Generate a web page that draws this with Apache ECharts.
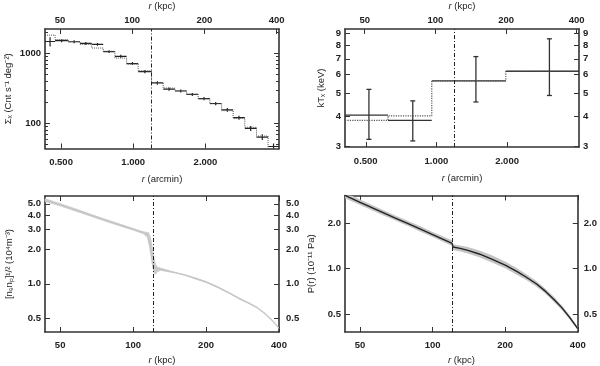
<!DOCTYPE html>
<html lang="en">
<head>
<meta charset="UTF-8">
<title>Cluster radial profiles</title>
<script src="https://cdn.jsdelivr.net/npm/echarts@6.0.0/dist/echarts.min.js"></script>
<style>
  html, body { margin: 0; padding: 0; background: #fff; }
  #chart { width: 600px; height: 366px; }
</style>
</head>
<body>
<div id="chart"></div>
<script>
// ---------- data (radii in kpc) ----------
var shockTop = 120, shockBottom = 121;
var kpcPerArcmin = 101;

// surface brightness bins
var sbEdges = [43.3, 47.7, 54.1, 60.6, 67.8, 75.7, 84.7, 94.8, 105.9, 120.4, 134.6, 150.6, 168.4, 188.3, 210.6, 235.7, 263.4, 294.6, 329.6, 368.3, 409];
var sbValues = [1460, 1500, 1450, 1370, 1330, 1050, 900, 710, 545, 376, 308, 289, 258, 225, 192, 156, 121, 85, 64, 47];
var sbErrors = [220, 70, 70, 65, 60, 50, 45, 35, 30, 22, 16, 14, 13, 12, 10, 9, 8, 7, 6, 5];
var sbModel = [1800, 1560, 1450, 1330, 1180, 1060, 850, 700, 560, 380, 318, 292, 258, 224, 190, 152, 118, 88, 66, 40];

// temperature bins
var ktEdges = [41.2, 62.8, 96.5, 199.5, 409];
var ktValues = [4.05, 3.85, 5.65, 6.2];
var ktLow = [3.2, 3.15, 4.6, 4.9];
var ktHigh = [5.2, 4.65, 7.15, 8.5];
var ktCentres = [52.1, 80.1, 148.8, 306];
var ktModel = [3.85, 4.02, 5.65, 6.2];

// density profile with its spread
var neR = [43, 50, 60, 70, 80, 90, 100, 110, 114, 116, 118, 120, 122, 124, 126, 130, 140, 150, 165, 180, 200, 225, 250, 275, 300, 325, 350, 375, 400];
var neMid = [5.4, 4.9, 4.3, 3.85, 3.5, 3.22, 3.0, 2.8, 2.72, 2.5, 2.1, 1.7, 1.45, 1.37, 1.35, 1.34, 1.29, 1.25, 1.19, 1.12, 1.04, 0.93, 0.83, 0.74, 0.68, 0.62, 0.55, 0.48, 0.41];
var neHi = [5.62, 5.06, 4.43, 3.96, 3.6, 3.31, 3.08, 2.88, 2.84, 2.82, 2.6, 2.2, 1.75, 1.5, 1.41, 1.38, 1.32, 1.27, 1.21, 1.14, 1.06, 0.948, 0.845, 0.755, 0.692, 0.632, 0.56, 0.488, 0.416];
var neLo = [5.22, 4.76, 4.17, 3.74, 3.4, 3.13, 2.92, 2.72, 2.56, 2.2, 1.75, 1.4, 1.22, 1.2, 1.27, 1.3, 1.26, 1.23, 1.17, 1.1, 1.02, 0.912, 0.815, 0.725, 0.668, 0.608, 0.54, 0.472, 0.404];

// pressure profile with its spread
var prR = [43.3, 50, 60, 70, 80, 90, 100, 110, 120.5, 121.5, 130, 140, 156, 175, 201, 225, 243, 270, 294, 320, 344, 370, 400];
var prMid = [3.06, 2.75, 2.41, 2.16, 1.97, 1.81, 1.68, 1.57, 1.47, 1.39, 1.36, 1.32, 1.25, 1.16, 1.05, 0.95, 0.883, 0.79, 0.706, 0.62, 0.549, 0.475, 0.4];
var prHi = [3.2, 2.87, 2.51, 2.25, 2.05, 1.89, 1.75, 1.64, 1.54, 1.45, 1.42, 1.39, 1.32, 1.23, 1.11, 1.0, 0.925, 0.825, 0.735, 0.645, 0.57, 0.49, 0.41];
var prLo = [2.93, 2.64, 2.32, 2.08, 1.9, 1.74, 1.62, 1.51, 1.41, 1.33, 1.3, 1.26, 1.19, 1.1, 1.0, 0.905, 0.845, 0.758, 0.68, 0.597, 0.53, 0.46, 0.39];

// tick values
var kpcTicks = [50, 100, 200, 400];
var arcminTicks = [0.5, 1, 2];
var sbTicks = [100, 1000];
var sbMinor = [50, 60, 70, 80, 90, 200, 300, 400, 500, 600, 700, 800, 900, 2000];
var ktTicks = [3, 4, 5, 6, 7, 8, 9];
var neTicks = [0.5, 1, 2, 3, 4, 5];
var prTicks = [0.5, 1, 2];

// ---------- chart ----------
var FONT = '"Liberation Sans", Arial, sans-serif';
var INK = '#333';
var grids = [], xAxes = [], yAxes = [], series = [];

function nameStyle(size) {
  return { fontFamily: FONT, fontSize: size, color: '#222',
    rich: { i: { fontFamily: FONT, fontSize: size, fontStyle: 'italic', color: '#222' } } };
}

// returns the index of the new axis
function axis(kind, grid, pos, min, max, ticks, fmt, margin, tickLen, name, nameGap) {
  var a = {
    type: 'log', gridIndex: grid, position: pos, min: min, max: max,
    axisLine: { show: !tickLen, onZero: false, lineStyle: { color: INK, width: 1.6 } },
    axisTick: { show: true, inside: true, length: tickLen || 5, customValues: ticks, lineStyle: { color: INK, width: 1 } },
    axisLabel: { show: !!fmt, customValues: ticks, margin: margin || 4,
      fontFamily: FONT, fontSize: 9.5, fontWeight: 'bold', color: '#222' },
    splitLine: { show: false }, minorTick: { show: false }, silent: true
  };
  if (fmt) a.axisLabel.formatter = fmt;
  if (name) {
    a.name = name; a.nameLocation = 'middle'; a.nameGap = nameGap; a.nameTextStyle = nameStyle(9.5);
  }
  var list = kind === 'x' ? xAxes : yAxes;
  list.push(a);
  return list.length - 1;
}

var fmtInt = function (v) { return String(Math.round(v)); };
var fmt1 = function (v) { return (Math.round(v * 10) / 10).toFixed(1); };
var fmt3 = function (v) { return (Math.round(v * 1000) / 1000).toFixed(3); };

function steps(edges, vals) {
  var out = [];
  vals.forEach(function (v, i) { out.push([edges[i], v]); out.push([edges[i + 1], v]); });
  return out;
}

function shockLine(r) {
  return { silent: true, symbol: 'none', label: { show: false },
    lineStyle: { color: '#222', type: [4, 2, 1, 2], width: 1 }, data: [{ xAxis: r }] };
}

function band(rs, lo, hi, fill) {
  return function (params, api) {
    var pts = [];
    for (var i = 0; i < rs.length; i++) pts.push(api.coord([rs[i], hi[i]]));
    for (var j = rs.length - 1; j >= 0; j--) pts.push(api.coord([rs[j], lo[j]]));
    return { type: 'polygon', shape: { points: pts }, style: { fill: fill } };
  };
}

// ----- panel 1: surface brightness -----
grids.push({ left: 45, top: 25, width: 234, height: 123.5 });
axis('x', 0, 'bottom', 43.3 / kpcPerArcmin, 409 / kpcPerArcmin, arcminTicks, fmt3, 9, 0, '{i|r} (arcmin)', 26);
var x1 = axis('x', 0, 'top', 43.3, 409, kpcTicks, fmtInt, 4, 0, '{i|r} (kpc)', 18);
var y1 = axis('y', 0, 'left', 44, 2200, sbTicks, fmtInt, 4, 0, 'Σₓ (Cnt s⁻¹ deg⁻²)', 32);
axis('y', 0, 'right', 44, 2200, sbTicks, null);
axis('y', 0, 'left', 44, 2200, sbMinor, null, 4, 3);
axis('y', 0, 'right', 44, 2200, sbMinor, null, 4, 3);

series.push({
  type: 'line', xAxisIndex: x1, yAxisIndex: y1, data: steps(sbEdges, sbModel),
  showSymbol: false, symbol: 'none', clip: true, animation: false,
  lineStyle: { color: '#555', width: 1, type: 'dotted' },
  markLine: shockLine(shockTop)
});
series.push({
  type: 'custom', xAxisIndex: x1, yAxisIndex: y1, clip: true, animation: false,
  data: sbValues.map(function (v, i) { return [sbEdges[i], sbEdges[i + 1], v, sbErrors[i]]; }),
  renderItem: function (params, api) {
    var x0 = api.value(0), xe = api.value(1), v = api.value(2), e = api.value(3);
    var xc = Math.sqrt(x0 * xe);
    var p = api.coord([x0, v]), q = api.coord([xe, v]);
    var lo = api.coord([xc, v - e]), hi = api.coord([xc, v + e]);
    var st = { stroke: '#222', lineWidth: 1.2 };
    return { type: 'group', children: [
      { type: 'line', shape: { x1: p[0], y1: p[1], x2: q[0], y2: q[1] }, style: st },
      { type: 'line', shape: { x1: lo[0], y1: lo[1], x2: hi[0], y2: hi[1] }, style: st }
    ] };
  }
});

// ----- panel 2: temperature -----
grids.push({ left: 345, top: 25, width: 234, height: 122 });
axis('x', 1, 'bottom', 41.2 / kpcPerArcmin, 409 / kpcPerArcmin, arcminTicks, fmt3, 9, 0, '{i|r} (arcmin)', 26);
var x2 = axis('x', 1, 'top', 41.2, 409, kpcTicks, fmtInt, 4, 0, '{i|r} (kpc)', 18);
var y2 = axis('y', 1, 'left', 2.97, 9.35, ktTicks, fmtInt, 4, 0, 'kTₓ (keV)', 19);
axis('y', 1, 'right', 2.97, 9.35, ktTicks, fmtInt, 4);

series.push({
  type: 'line', xAxisIndex: x2, yAxisIndex: y2, data: steps(ktEdges, ktModel),
  showSymbol: false, symbol: 'none', clip: true, animation: false,
  lineStyle: { color: '#555', width: 1.2, type: 'dotted' },
  markLine: shockLine(shockTop)
});
series.push({
  type: 'custom', xAxisIndex: x2, yAxisIndex: y2, clip: true, animation: false,
  data: ktValues.map(function (v, i) { return [ktEdges[i], ktEdges[i + 1], v, ktLow[i], ktHigh[i], ktCentres[i]]; }),
  renderItem: function (params, api) {
    var p = api.coord([api.value(0), api.value(2)]), q = api.coord([api.value(1), api.value(2)]);
    var lo = api.coord([api.value(5), api.value(3)]), hi = api.coord([api.value(5), api.value(4)]);
    var st = { stroke: '#333', lineWidth: 1.3 };
    var cap = 2.5;
    return { type: 'group', children: [
      { type: 'line', shape: { x1: p[0], y1: p[1], x2: q[0], y2: q[1] }, style: st },
      { type: 'line', shape: { x1: lo[0], y1: lo[1], x2: hi[0], y2: hi[1] }, style: st },
      { type: 'line', shape: { x1: lo[0] - cap, y1: lo[1], x2: lo[0] + cap, y2: lo[1] }, style: st },
      { type: 'line', shape: { x1: hi[0] - cap, y1: hi[1], x2: hi[0] + cap, y2: hi[1] }, style: st }
    ] };
  }
});

// ----- panel 3: density -----
grids.push({ left: 45, top: 196, width: 234, height: 138 });
var x3 = axis('x', 2, 'bottom', 43.3, 400, kpcTicks, fmtInt, 8, 0, '{i|r} (kpc)', 23);
axis('x', 2, 'top', 43.3, 400, kpcTicks, null);
var y3 = axis('y', 2, 'left', 0.38, 5.85, neTicks, fmt1, 4, 0, '[nₑnₚ]¹/² (10⁴m⁻³)', 31);
axis('y', 2, 'right', 0.38, 5.85, neTicks, fmt1, 7);

series.push({
  type: 'custom', xAxisIndex: x3, yAxisIndex: y3, clip: true, animation: false,
  data: [[neR[0], neMid[0]]],
  renderItem: band(neR, neLo, neHi, '#cbcbcb')
});
series.push({
  type: 'line', xAxisIndex: x3, yAxisIndex: y3, data: neR.map(function (r, i) { return [r, neMid[i]]; }),
  showSymbol: false, symbol: 'none', clip: true, animation: false,
  lineStyle: { color: '#c6c6c6', width: 1 },
  markLine: shockLine(shockBottom)
});

// ----- panel 4: pressure -----
grids.push({ left: 345, top: 195.5, width: 233, height: 138 });
var x4 = axis('x', 3, 'bottom', 43.3, 400, kpcTicks, fmtInt, 8, 0, '{i|r} (kpc)', 23);
axis('x', 3, 'top', 43.3, 400, kpcTicks, null);
var y4 = axis('y', 3, 'left', 0.38, 3.05, prTicks, fmt1, 4, 0, 'P(r) (10⁻¹¹ Pa)', 29);
axis('y', 3, 'right', 0.38, 3.05, prTicks, fmt1, 6);

series.push({
  type: 'custom', xAxisIndex: x4, yAxisIndex: y4, clip: true, animation: false,
  data: [[prR[0], prMid[0]]],
  renderItem: band(prR, prLo, prHi, '#c4c4c4')
});
series.push({
  type: 'line', xAxisIndex: x4, yAxisIndex: y4, data: prR.map(function (r, i) { return [r, prMid[i]]; }),
  showSymbol: false, symbol: 'none', clip: true, animation: false,
  lineStyle: { color: '#222', width: 1.4 },
  markLine: shockLine(shockBottom)
});

var chart = echarts.init(document.getElementById('chart'), null, { renderer: 'canvas' });
chart.setOption({
  animation: false,
  backgroundColor: '#fff',
  grid: grids,
  xAxis: xAxes,
  yAxis: yAxes,
  series: series
});
</script>
</body>
</html>
